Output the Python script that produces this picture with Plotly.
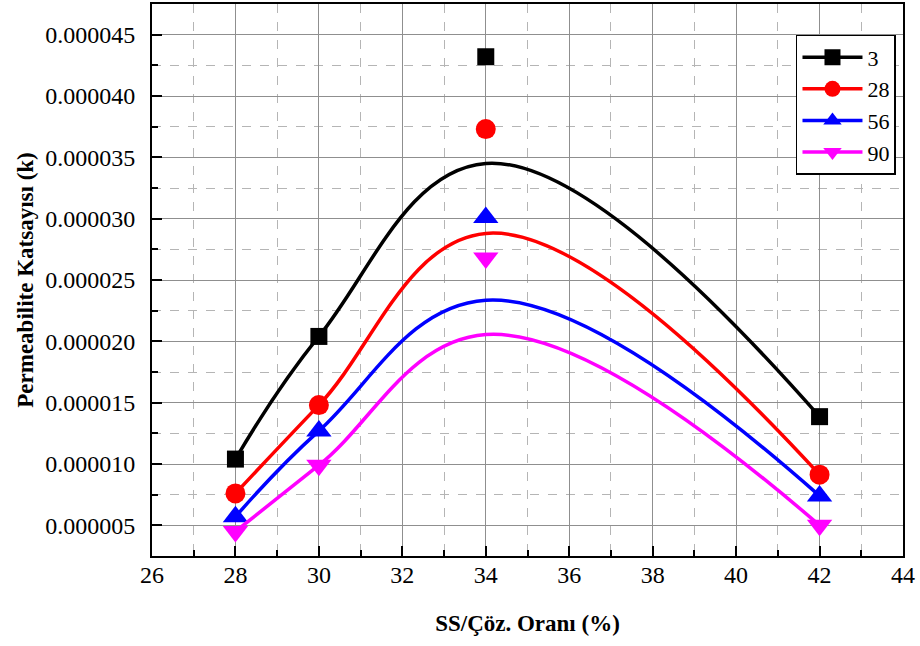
import plotly.graph_objects as go

# SS/Çöz. ratio (%) and permeability coefficient k for each curing age (days)
ratio = [28, 30, 34, 42]
ages = ["3", "28", "56", "90"]
k_3 = [1.04e-5, 2.04e-5, 4.32e-5, 1.386e-5]
k_28 = [7.6e-6, 1.48e-5, 3.73e-5, 9.13e-6]
k_56 = [5.7e-6, 1.27e-5, 3.01e-5, 7.4e-6]
k_90 = [4.5e-6, 9.9e-6, 2.68e-5, 5.0e-6]

# smoothed trend value of each curve at 34 %
trend_34 = [3.45e-5, 2.88e-5, 2.335e-5, 2.055e-5]

series = [k_3, k_28, k_56, k_90]
colors = ["#000000", "#ff0000", "#0000ff", "#ff00ff"]
symbols = ["square", "circle", "triangle-up", "triangle-down"]
sizes = [17, 20, 22, 22]

FONT = "Times New Roman, Liberation Serif, DejaVu Serif, serif"

fig = go.Figure()

for name, vals, t34, col, sym, sz in zip(ages, series, trend_34, colors, symbols, sizes):
    # smooth trend line through the measured end points and the trend value at 34 %
    trend_y = [vals[0], vals[1], t34, vals[3]]
    fig.add_trace(go.Scatter(
        x=ratio, y=trend_y, mode="lines",
        line=dict(color=col, width=3.5, shape="spline", smoothing=1.15),
        showlegend=False, hoverinfo="skip",
    ))
    # measured values
    fig.add_trace(go.Scatter(
        x=ratio, y=vals, mode="markers",
        marker=dict(color=col, symbol=sym, size=sz, line=dict(width=0)),
        showlegend=False, name=name,
    ))
    # legend entry (line + symbol)
    fig.add_trace(go.Scatter(
        x=[None], y=[None], mode="lines+markers", name=name,
        line=dict(color=col, width=3.5),
        marker=dict(color=col, symbol=sym, size=sz),
    ))

axis_common = dict(
    showline=True, linecolor="black", linewidth=2, mirror=True,
    ticks="inside", ticklen=10, tickwidth=2, tickcolor="black",
    showgrid=True, gridcolor="#8f8f8f", gridwidth=1,
    zeroline=False,
    tickfont=dict(family=FONT, size=24, color="black"),
)

fig.update_xaxes(
    range=[26, 44], tick0=26, dtick=2,
    minor=dict(dtick=1, ticks="inside", ticklen=6, tickwidth=1.5, tickcolor="black",
               showgrid=True, gridcolor="#b5b5b5", griddash="dash", gridwidth=1),
    title=dict(text="<b>SS/Çöz. Oranı (%)</b>", font=dict(family=FONT, size=23, color="black"),
               standoff=28),
    ticklabelstandoff=-4,
    **axis_common,
)
fig.update_yaxes(
    range=[2.5e-6, 4.75e-5], tick0=0, dtick=5e-6, tickformat=".6f",
    minor=dict(dtick=2.5e-6, ticks="inside", ticklen=6, tickwidth=1.5, tickcolor="black",
               showgrid=True, gridcolor="#b5b5b5", griddash="dash", gridwidth=1),
    title=dict(text="<b>Permeabilite Katsayısı (k)</b>", font=dict(family=FONT, size=23, color="black"),
               standoff=5),
    ticklabelstandoff=10,
    **axis_common,
)

fig.update_layout(
    width=920, height=646,
    margin=dict(l=152, r=17, t=2, b=90),
    paper_bgcolor="white", plot_bgcolor="white",
    font=dict(family=FONT, color="black"),
    legend=dict(
        x=0.8575, y=0.944, xanchor="left", yanchor="top",
        bgcolor="white", bordercolor="black", borderwidth=1.5,
        font=dict(family=FONT, size=22, color="black"),
        itemwidth=60, tracegroupgap=0,
    ),
)

fig.write_html("out.html")
